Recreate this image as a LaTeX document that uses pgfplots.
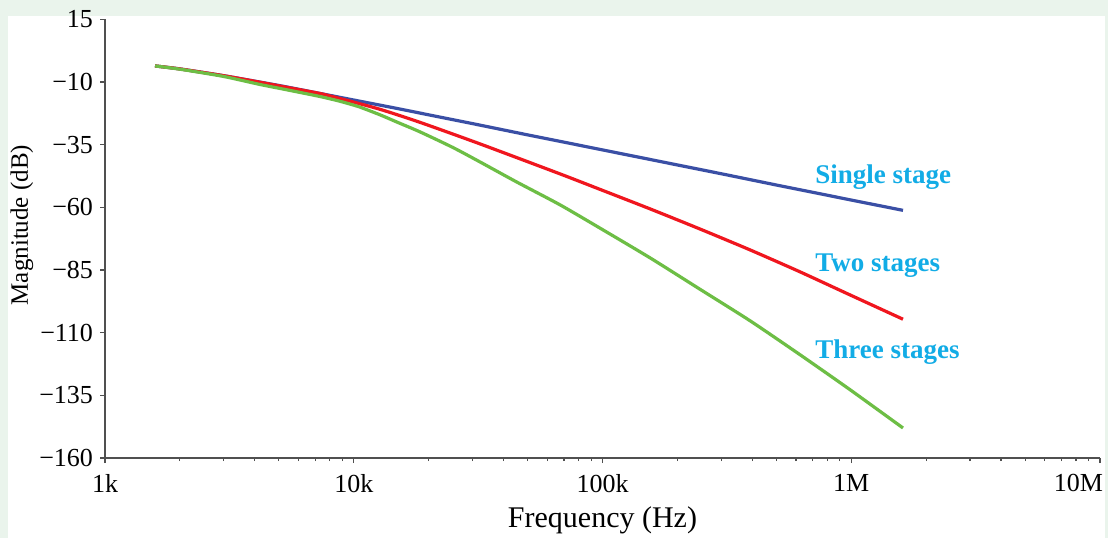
\documentclass[border=0pt]{standalone}
\usepackage{pgfplots}
\pgfplotsset{compat=1.18}
\usepackage{fontspec}
\setmainfont{Liberation Serif}
\definecolor{bgc}{HTML}{EAF4EC}
\definecolor{axc}{HTML}{505050}
\definecolor{c1}{HTML}{3A4FA5}
\definecolor{c2}{HTML}{F0161E}
\definecolor{c3}{HTML}{6DBE45}
\definecolor{annc}{HTML}{12ACE6}
\begin{document}
\begin{tikzpicture}
\fill[bgc] (-52.5pt,-40pt) rectangle (501.5pt,229pt);
\fill[white] (-48.5pt,-40pt) rectangle (500pt,221pt);
\begin{axis}[
  scale only axis, width=497.5pt, height=219.35pt,
  xmode=log, xmin=1000, xmax=10000000, ymin=-160, ymax=15,
  axis lines*=left,
  axis line style={draw=axc, line width=0.8pt},
  tick align=outside,
  major tick length=2.5pt, minor tick length=1.5pt,
  tick style={draw=axc, line width=0.6pt},
  xtick={1000,10000,100000,1000000,10000000},
  xticklabels={1k,10k,100k,1M,\makebox[0pt][r]{10M\hspace{-1.5pt}}},
  ytick={15,-10,-35,-60,-85,-110,-135,-160},
  yticklabels={15,−10,−35,−60,−85,−110,−135,−160},
  ticklabel style={font=\fontsize{13}{14}\selectfont, text=black},
  xticklabel style={yshift=-2pt},
  xlabel={Frequency (Hz)}, ylabel={Magnitude (dB)},
  xlabel style={font=\fontsize{15}{16}\selectfont, at={(axis description cs:0.5,-0.141)}, anchor=center},
  ylabel style={font=\fontsize{12.5}{13}\selectfont, at={(axis description cs:-0.0834,0.531)}, anchor=center},
  every axis plot/.append style={line width=1.6pt, line join=round, smooth, tension=0.4},
]
\addplot[c1] coordinates {
(1589,-3.6) (2000,-4.8) (3000,-7.5) (5000,-11.4) (7000,-14.2) (10000,-17.2)
(15000,-20.6) (20000,-23.1) (30000,-26.6) (50000,-31.1) (70000,-34.0)
(100000,-37.1) (150000,-40.6) (200000,-43.1) (300000,-46.6) (500000,-51.1)
(700000,-54.0) (1000000,-57.1) (1614000,-61.2)
};
\addplot[c2] coordinates {
(1589,-3.6) (2002,-4.8) (3000,-7.5) (4199,-10.1) (5500,-12.3) (7316,-14.6)
(8806,-16.6) (12750,-20.9) (18460,-26.1) (32180,-34.7) (67470,-46.66)
(97700,-52.84) (155200,-60.61) (246600,-68.66) (391800,-76.98)
(622300,-85.74) (988600,-94.94) (1614000,-104.63)
};
\addplot[c3] coordinates {
(1589,-3.6) (2002,-4.9) (3000,-7.8) (4199,-11.0) (5500,-13.3) (7316,-15.8)
(8806,-17.7) (10500,-19.9) (12750,-23.1) (15000,-26.1) (18460,-29.9)
(25000,-36.1) (32180,-41.9) (45000,-49.8) (67470,-59.0) (97700,-68.3)
(155200,-80.14) (246600,-92.69) (391800,-105.25) (622300,-118.80)
(988600,-132.75) (1614000,-148.02)
};
\node[anchor=base west, inner sep=0pt, text=annc, font=\bfseries\fontsize{13.5}{14}\selectfont] at (axis cs:715000,-50.4) {Single stage};
\node[anchor=base west, inner sep=0pt, text=annc, font=\bfseries\fontsize{13.5}{14}\selectfont] at (axis cs:715000,-85.6) {Two stages};
\node[anchor=base west, inner sep=0pt, text=annc, font=\bfseries\fontsize{13.5}{14}\selectfont] at (axis cs:715000,-120.5) {Three stages};
\end{axis}
\pgfresetboundingbox
\useasboundingbox (-52.5pt,-40pt) rectangle (501.5pt,229pt);
\end{tikzpicture}
\end{document}
